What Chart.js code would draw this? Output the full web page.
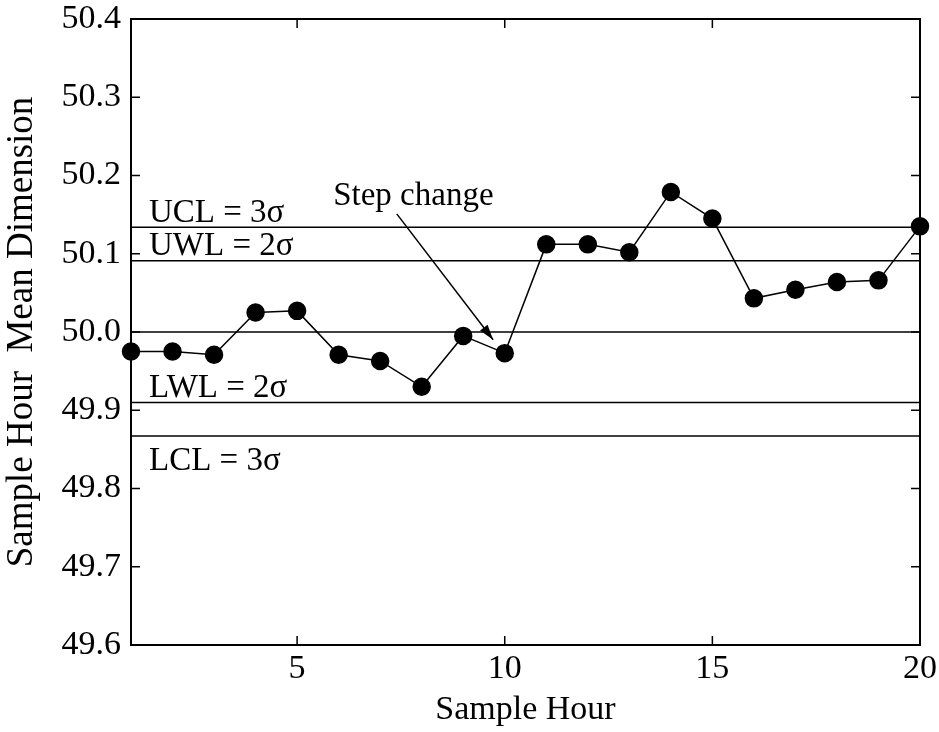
<!DOCTYPE html>
<html>
<head>
<meta charset="utf-8">
<script src="https://cdn.jsdelivr.net/npm/chart.js@4"></script>
<style>
  html, body { margin: 0; padding: 0; background: #fff; }
  #wrap { width: 939px; height: 732px; }
</style>
</head>
<body>
<div id="wrap"><canvas id="chart" width="939" height="732"></canvas></div>
<script>
// sample hours and the mean dimension
const hours = [1, 2, 3, 4, 5, 6, 7, 8, 9, 10, 11, 12, 13, 14, 15, 16, 17, 18, 19, 20];
const meanDim = [49.975, 49.975, 49.971, 50.025, 50.027, 49.971, 49.963, 49.930, 49.995, 49.973,
                 50.112, 50.112, 50.102, 50.179, 50.145, 50.043, 50.054, 50.064, 50.066, 50.135];

// control / warning limits
const limitNames = ["UCL = 3σ", "UWL = 2σ", "", "LWL = 2σ", "LCL = 3σ"];
const limitValues = [50.134, 50.091, 50.0, 49.910, 49.867];

// tick labels
const xTicks = [5, 10, 15, 20];
const yTicks = [49.6, 49.7, 49.8, 49.9, 50.0, 50.1, 50.2, 50.3, 50.4];

// annotation "Step change" (text position and arrow, data coords)
const stepText = { x: 7.8, y: 50.174 };
const stepArrow = [{ x: 7.4, y: 50.151 }, { x: 9.72, y: 49.990 }];

const FONT = "'Liberation Serif', 'Times New Roman', serif";

// limit lines as flat datasets from first to last hour
const limitSets = limitValues.map((v) => ({
  data: [{ x: hours[0], y: v }, { x: hours[hours.length - 1], y: v }],
  borderColor: "#000",
  borderWidth: 1.5,
  pointRadius: 0,
  showLine: true,
}));

// frame, inward ticks, labels and arrow
const decorPlugin = {
  id: "decor",
  afterDatasetsDraw(chart) {
    const ctx = chart.ctx;
    const xs = chart.scales.x;
    const ys = chart.scales.y;
    const a = chart.chartArea;
    ctx.save();
    ctx.strokeStyle = "#000";
    ctx.lineWidth = 2;
    ctx.strokeRect(a.left, a.top, a.right - a.left, a.bottom - a.top);

    ctx.lineWidth = 1.5;
    ctx.beginPath();
    yTicks.forEach((t) => {
      const py = ys.getPixelForValue(t);
      ctx.moveTo(a.left, py); ctx.lineTo(a.left + 9, py);
      ctx.moveTo(a.right, py); ctx.lineTo(a.right - 9, py);
    });
    xTicks.forEach((t) => {
      const px = xs.getPixelForValue(t);
      ctx.moveTo(px, a.bottom); ctx.lineTo(px, a.bottom - 9);
      ctx.moveTo(px, a.top); ctx.lineTo(px, a.top + 9);
    });
    ctx.stroke();

    // limit labels
    ctx.fillStyle = "#000";
    ctx.font = "33px " + FONT;
    ctx.textAlign = "left";
    ctx.textBaseline = "middle";
    limitNames.forEach((name, i) => {
      if (!name) return;
      const py = ys.getPixelForValue(limitValues[i]);
      const below = name.startsWith("LCL");
      ctx.fillText(name, a.left + 18, below ? py + 25 : py - 14);
    });

    // step change text + arrow
    ctx.textAlign = "center";
    ctx.fillText("Step change", xs.getPixelForValue(stepText.x), ys.getPixelForValue(stepText.y));
    const x0 = xs.getPixelForValue(stepArrow[0].x), y0 = ys.getPixelForValue(stepArrow[0].y);
    const x1 = xs.getPixelForValue(stepArrow[1].x), y1 = ys.getPixelForValue(stepArrow[1].y);
    ctx.lineWidth = 1.5;
    ctx.beginPath();
    ctx.moveTo(x0, y0); ctx.lineTo(x1, y1);
    ctx.stroke();
    const ang = Math.atan2(y1 - y0, x1 - x0);
    ctx.beginPath();
    ctx.moveTo(x1, y1);
    ctx.lineTo(x1 - 16 * Math.cos(ang - 0.3), y1 - 16 * Math.sin(ang - 0.3));
    ctx.lineTo(x1 - 16 * Math.cos(ang + 0.3), y1 - 16 * Math.sin(ang + 0.3));
    ctx.closePath();
    ctx.fill();
    ctx.restore();
  },
};

new Chart(document.getElementById("chart"), {
  type: "scatter",
  data: {
    datasets: [
      {
        data: hours.map((h, i) => ({ x: h, y: meanDim[i] })),
        showLine: true,
        borderColor: "#000",
        borderWidth: 1.5,
        pointRadius: 8.5,
        pointBackgroundColor: "#000",
        pointBorderColor: "#000",
        clip: false,
      },
      ...limitSets,
    ],
  },
  options: {
    responsive: false,
    animation: false,
    layout: { padding: { top: 19, right: 19, left: 0, bottom: 0 } },
    plugins: { legend: { display: false }, tooltip: { enabled: false } },
    scales: {
      x: {
        type: "linear",
        min: 1,
        max: 20,
        afterBuildTicks: (s) => { s.ticks = xTicks.map((v) => ({ value: v })); },
        afterFit: (s) => { s.height = 87; s.paddingLeft = 0; s.paddingRight = 0; },
        grid: { display: false, drawTicks: false },
        border: { display: false },
        ticks: { color: "#000", font: { family: FONT, size: 34 }, padding: 4, maxRotation: 0 },
        title: { display: true, text: "Sample Hour", color: "#000", font: { family: FONT, size: 34 }, padding: { top: 0, bottom: 2 } },
      },
      y: {
        min: 49.6,
        max: 50.4,
        afterBuildTicks: (s) => { s.ticks = yTicks.map((v) => ({ value: v })); },
        afterFit: (s) => { s.width = 131; s.paddingTop = 0; s.paddingBottom = 0; },
        grid: { display: false, drawTicks: false },
        border: { display: false },
        ticks: { color: "#000", font: { family: FONT, size: 34 }, padding: 10, callback: (v) => v.toFixed(1) },
        title: { display: true, text: "Sample Hour  Mean Dimension", color: "#000", font: { family: FONT, size: 37 }, padding: { top: 0, bottom: 0 } },
      },
    },
  },
  plugins: [decorPlugin],
});
</script>
</body>
</html>
